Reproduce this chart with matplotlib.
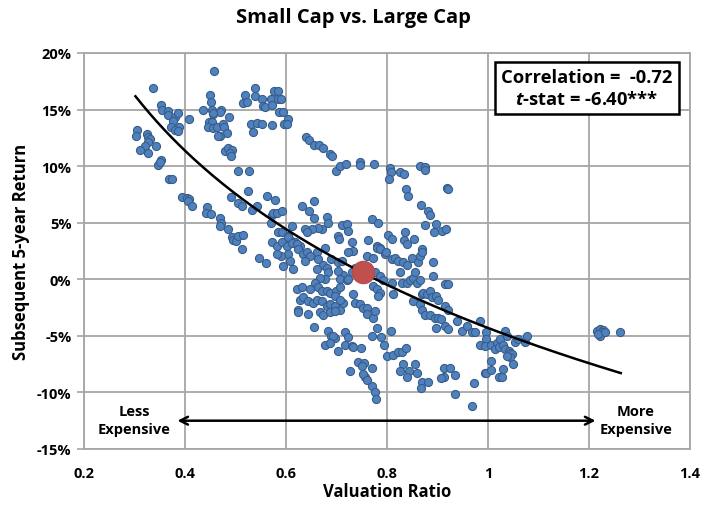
import numpy as np
import matplotlib
matplotlib.use("Agg")
import matplotlib.pyplot as plt
from matplotlib.ticker import FuncFormatter

plt.rcParams['font.family'] = ['Open Sans', 'DejaVu Sans']
plt.rcParams['font.weight'] = 'bold'
plt.rcParams['mathtext.fontset'] = 'custom'
plt.rcParams['mathtext.it'] = 'Open Sans:italic:bold'
plt.rcParams['mathtext.bf'] = 'Open Sans:bold'

# valuation ratio (x) and subsequent 5-year return in % (y)
val_ratio = [
    0.336, 0.458,
    0.352, 0.354, 0.366, 0.366, 0.380, 0.386, 0.376, 0.372, 0.388, 0.380, 0.386, 0.408,
    0.305, 0.303, 0.325, 0.327, 0.331, 0.327, 0.321, 0.311, 0.327, 0.343,
    0.352, 0.347, 0.350, 0.368, 0.374, 0.394, 0.404, 0.408, 0.406, 0.414,
    0.444, 0.442, 0.451, 0.469, 0.471, 0.469, 0.485, 0.493, 0.495, 0.501, 0.505, 0.515, 0.513,
    0.450, 0.452, 0.453, 0.455, 0.471, 0.469, 0.455, 0.487, 0.448, 0.453, 0.446, 0.455,
    0.463, 0.475, 0.477, 0.483, 0.469, 0.465, 0.436,
    0.479, 0.485, 0.493, 0.489, 0.491, 0.505, 0.527,
    0.491, 0.525, 0.505, 0.513, 0.533, 0.543, 0.562, 0.578,
    0.572, 0.574, 0.582, 0.592, 0.570, 0.584, 0.592, 0.572, 0.582, 0.592,
    0.519, 0.515, 0.522, 0.539, 0.539, 0.552, 0.555, 0.558, 0.570, 0.572, 0.577, 0.585,
    0.585, 0.590, 0.587, 0.595, 0.531, 0.535, 0.543, 0.552, 0.573, 0.597,
    0.604, 0.602, 0.640, 0.646, 0.655, 0.665, 0.673, 0.687, 0.691, 0.699, 0.707, 0.719,
    0.747, 0.747, 0.774, 0.806, 0.808, 0.804, 0.826, 0.834, 0.865, 0.875, 0.875, 0.919,
    0.921, 0.838, 0.842, 0.867, 0.881, 0.885,
    0.632, 0.646, 0.655, 0.655, 0.681, 0.683, 0.671, 0.663, 0.651, 0.638, 0.642, 0.612,
    0.711, 0.721, 0.723, 0.703, 0.705, 0.731, 0.762, 0.770, 0.782, 0.802, 0.810, 0.780,
    0.786, 0.836, 0.834, 0.840, 0.853, 0.875, 0.897, 0.893, 0.909, 0.917, 0.869,
    0.604, 0.608, 0.612, 0.602, 0.618, 0.628, 0.605, 0.611, 0.621,
    0.624, 0.605, 0.608, 0.634, 0.641, 0.648, 0.661, 0.677, 0.664, 0.674, 0.681, 0.690,
    0.704, 0.710, 0.733, 0.723, 0.760, 0.773, 0.780, 0.786, 0.796, 0.799, 0.809, 0.816,
    0.822, 0.832, 0.839, 0.849, 0.862, 0.865, 0.869, 0.892,
    0.737, 0.730, 0.713, 0.704, 0.707, 0.720, 0.723, 0.684, 0.677, 0.667, 0.657, 0.661,
    0.638, 0.614, 0.776, 0.786, 0.793, 0.773, 0.780, 0.786, 0.783, 0.812, 0.809, 0.826,
    0.829, 0.839, 0.846, 0.852, 0.859, 0.865, 0.855, 0.892, 0.915, 0.921,
    0.621, 0.631, 0.648, 0.664, 0.671, 0.681, 0.687, 0.700, 0.697, 0.707,
    0.628, 0.634, 0.644, 0.654, 0.661, 0.671, 0.681, 0.687, 0.697, 0.707, 0.713, 0.707,
    0.624, 0.644, 0.624, 0.667, 0.674, 0.687, 0.697, 0.737, 0.747, 0.753, 0.760, 0.760,
    0.773, 0.776, 0.733,
    0.852, 0.865, 0.869, 0.872, 0.879, 0.885, 0.889, 0.898, 0.902, 0.915, 0.921, 0.869,
    0.875, 0.885, 0.895, 0.902, 0.908, 0.898, 0.915, 0.921, 0.938, 0.948, 0.958, 0.968,
    0.974, 0.984, 0.984,
    0.656, 0.684, 0.690, 0.697, 0.694, 0.677, 0.687, 0.704, 0.717, 0.723, 0.717, 0.730,
    0.733, 0.749, 0.771, 0.789, 0.795, 0.808, 0.781,
    0.801, 0.812, 0.821, 0.829, 0.837, 0.742, 0.755, 0.751, 0.756, 0.753, 0.760, 0.771,
    0.727, 0.770, 0.776, 0.778,
    0.832, 0.826, 0.844, 0.855, 0.859, 0.839, 0.870, 0.882, 0.867, 0.912, 0.925, 0.912,
    0.908, 0.935, 0.935, 0.973, 0.969, 0.994,
    0.547, 0.560, 0.591, 0.583, 0.595,
    0.997, 0.997, 0.994, 1.007, 1.017, 1.024, 1.034, 1.037, 1.014, 1.021, 1.030, 1.034,
    1.041, 1.044, 1.047, 1.044, 1.037, 1.007, 0.997, 1.007, 1.021, 1.027, 1.030, 1.049,
    1.053, 1.060, 1.073, 1.077,
    1.216, 1.222, 1.228, 1.226, 1.222, 1.218, 1.232, 1.261,
]
ret_5y = [
    16.9, 18.4,
    15.4, 15.0, 14.9, 14.5, 14.3, 14.7, 14.0, 13.5, 13.5, 13.2, 13.1, 14.2,
    13.2, 12.7, 12.8, 12.6, 12.4, 12.1, 11.8, 11.4, 11.2, 11.8,
    10.5, 10.1, 10.4, 8.9, 8.9, 7.3, 7.2, 7.1, 6.9, 6.5,
    6.4, 5.9, 5.8, 5.4, 5.0, 4.7, 4.4, 3.7, 3.5, 3.4, 3.8, 3.9, 2.7,
    16.3, 15.7, 15.0, 14.6, 15.0, 14.8, 14.7, 14.3, 13.9, 13.9, 13.5, 13.4,
    13.5, 13.7, 13.5, 12.9, 12.7, 12.7, 15.0,
    11.3, 11.6, 11.4, 11.2, 10.9, 9.6, 9.6,
    7.3, 7.8, 6.7, 6.5, 6.1, 6.5, 7.4, 7.0,
    5.7, 5.9, 5.9, 6.0, 5.0, 4.2, 4.2, 3.3, 2.9, 3.3,
    16.3, 15.6, 15.7, 16.9, 16.2, 15.9, 15.3, 15.2, 15.9, 15.4, 16.6, 16.6,
    15.9, 15.9, 14.8, 14.8, 13.7, 13.0, 13.8, 13.7, 13.6, 13.7,
    14.2, 13.7, 12.6, 12.3, 11.9, 11.9, 11.6, 11.1, 10.9, 9.6, 10.0, 10.2,
    10.4, 10.1, 10.2, 9.8, 9.5, 8.9, 9.5, 9.3, 10.0, 9.9, 9.7, 8.1,
    8.0, 8.0, 7.4, 6.6, 6.0, 5.7,
    6.5, 6.0, 6.9, 5.4, 5.5, 5.0, 4.4, 4.5, 4.4, 4.4, 4.2, 4.7,
    4.8, 4.9, 4.3, 3.8, 3.6, 3.3, 3.5, 5.3, 5.0, 3.9, 3.6, 2.9,
    2.8, 4.2, 3.5, 3.1, 3.6, 4.8, 4.9, 4.2, 4.3, 4.4, 2.7,
    3.8, 3.5, 3.3, 2.9, 3.3, 2.9, 3.7, 3.2, 3.1,
    2.7, 2.2, 1.6, 2.2, 2.4, 2.1, 2.4, 2.8, 1.8, 1.3, 1.0, 1.8,
    1.5, 1.6, 2.5, 2.4, 2.1, 1.9, 2.8, 2.7, 2.2, 2.4, 1.8, 1.9,
    1.6, 1.5, 1.3, 1.9, 1.5, 2.1, 2.4, 1.5,
    1.0, 0.6, 0.4, 0.7, 0.0, -0.1, 0.0, 0.6, 0.0, 0.1, -0.3, 0.9,
    1.6, 0.9, 0.6, 0.3, -0.1, -0.6, -0.9, -1.2, -1.5, -1.3, -0.3, 0.6,
    -0.3, -0.3, -0.1, 0.1, -0.3, -0.1, 0.6, 0.3, -0.4, -0.4,
    -0.9, -0.7, -0.9, -0.7, -1.0, -1.0, -1.2, -1.0, -1.5, -0.7,
    -1.8, -1.6, -1.9, -2.1, -1.8, -1.9, -2.4, -2.2, -2.4, -2.7, -2.1, -1.8,
    -2.7, -3.1, -2.9, -2.9, -3.2, -2.9, -2.8, -2.1, -2.2, -2.5, -2.5, -3.1,
    -3.4, -2.8, -1.3,
    -1.9, -2.2, -1.3, -1.2, -1.3, -1.0, -1.6, -1.5, -1.8, -2.4, -2.7, -2.7,
    -3.2, -3.2, -3.4, -3.4, -3.5, -4.3, -4.1, -4.4, -3.7, -4.6, -4.1, -4.7,
    -4.7, -3.7, -5.8,
    -4.2, -4.6, -5.0, -5.2, -5.0, -5.8, -5.6, -6.3, -4.7, -5.1, -5.8, -5.9,
    -6.0, -6.1, -5.0, -5.1, -5.8, -4.6, -4.3,
    -6.8, -6.7, -6.4, -6.4, -6.1, -7.3, -7.4, -7.7, -8.6, -8.4, -8.9, -7.8,
    -8.1, -9.4, -10.0, -10.6,
    -7.5, -8.1, -8.1, -7.5, -8.3, -8.6, -9.1, -9.1, -9.6, -7.8, -7.8, -8.6,
    -8.7, -8.5, -10.1, -9.2, -11.2, -8.3,
    1.9, 1.4, 2.1, 2.2, 1.2,
    -4.7, -5.3, -5.9, -5.8, -5.6, -5.3, -4.6, -5.0, -6.2, -6.0, -5.8, -6.2,
    -6.3, -6.5, -6.6, -6.9, -6.8, -7.2, -8.3, -8.0, -8.6, -8.6, -7.9, -7.5,
    -5.5, -5.3, -5.5, -5.0,
    -4.6, -4.4, -4.5, -4.7, -5.0, -4.8, -4.7, -4.7,
]

# current reading (red dot)
current_x = [0.753]
current_y = [0.65]

# logarithmic trend line: y = a + b*ln(x)
trend_a = -4.3
trend_b = -17.1
trend_range = (0.302, 1.263)

x_ticks = [0.2, 0.4, 0.6, 0.8, 1.0, 1.2, 1.4]
x_tick_labels = ["0.2", "0.4", "0.6", "0.8", "1", "1.2", "1.4"]
y_ticks = [-15, -10, -5, 0, 5, 10, 15, 20]

fig = plt.figure(figsize=(7.22, 5.06), dpi=100)
ax = fig.add_axes([0.1163, 0.1107, 0.8393, 0.7826])

ax.scatter(val_ratio, ret_5y, s=34, color="#4F81BD", edgecolors="#385D8A",
           linewidths=0.8, zorder=3)

tx = np.linspace(trend_range[0], trend_range[1], 200)
ax.plot(tx, trend_a + trend_b * np.log(tx), color="black", linewidth=1.8, zorder=4)

ax.scatter(current_x, current_y, s=260, color="#C0504D", edgecolors="#B84A47",
           linewidths=0.8, zorder=5)

ax.set_xlim(0.2, 1.4)
ax.set_ylim(-15, 20)
ax.set_xticks(x_ticks)
ax.set_xticklabels(x_tick_labels)
ax.set_yticks(y_ticks)
ax.yaxis.set_major_formatter(FuncFormatter(lambda v, p: f"{v:.0f}%"))
ax.tick_params(axis="x", labelsize=10.5, length=0, pad=12)
ax.tick_params(axis="y", labelsize=10.5, length=5, width=1.2, color="#A6A6A6",
               direction="out", pad=4)
ax.grid(True, color="#A6A6A6", linewidth=1.3)
ax.set_axisbelow(True)
for sp in ax.spines.values():
    sp.set_color("#A6A6A6")
    sp.set_linewidth(1.3)

ax.set_xlabel("Valuation Ratio", fontsize=12, fontweight="bold", labelpad=2)
ax.set_ylabel("Subsequent 5-year Return", fontsize=12, fontweight="bold", labelpad=5)
fig.suptitle("Small Cap vs. Large Cap", fontsize=14.5, fontweight="bold", x=0.49, y=0.985)

# less / more expensive arrow
ax.annotate("", xy=(0.385, -12.5), xytext=(1.213, -12.5),
            arrowprops=dict(arrowstyle="<->", color="black", lw=1.8,
                            shrinkA=0, shrinkB=0, mutation_scale=14))
ax.text(0.299, -12.45, "Less\nExpensive", ha="center", va="center", fontsize=10.5,
        fontweight="bold", linespacing=1.4)
ax.text(1.293, -12.45, "More\nExpensive", ha="center", va="center", fontsize=10.5,
        fontweight="bold", linespacing=1.4)

ax.text(1.196, 16.9, "Correlation =  -0.72\n$\\it{t}$-stat = -6.40***",
        ha="center", va="center", fontsize=13.2, fontweight="bold", linespacing=1.25,
        bbox=dict(boxstyle="square,pad=0.35", facecolor="white", edgecolor="black",
                  linewidth=1.8), zorder=6)

fig.savefig("out.png", dpi=100)
